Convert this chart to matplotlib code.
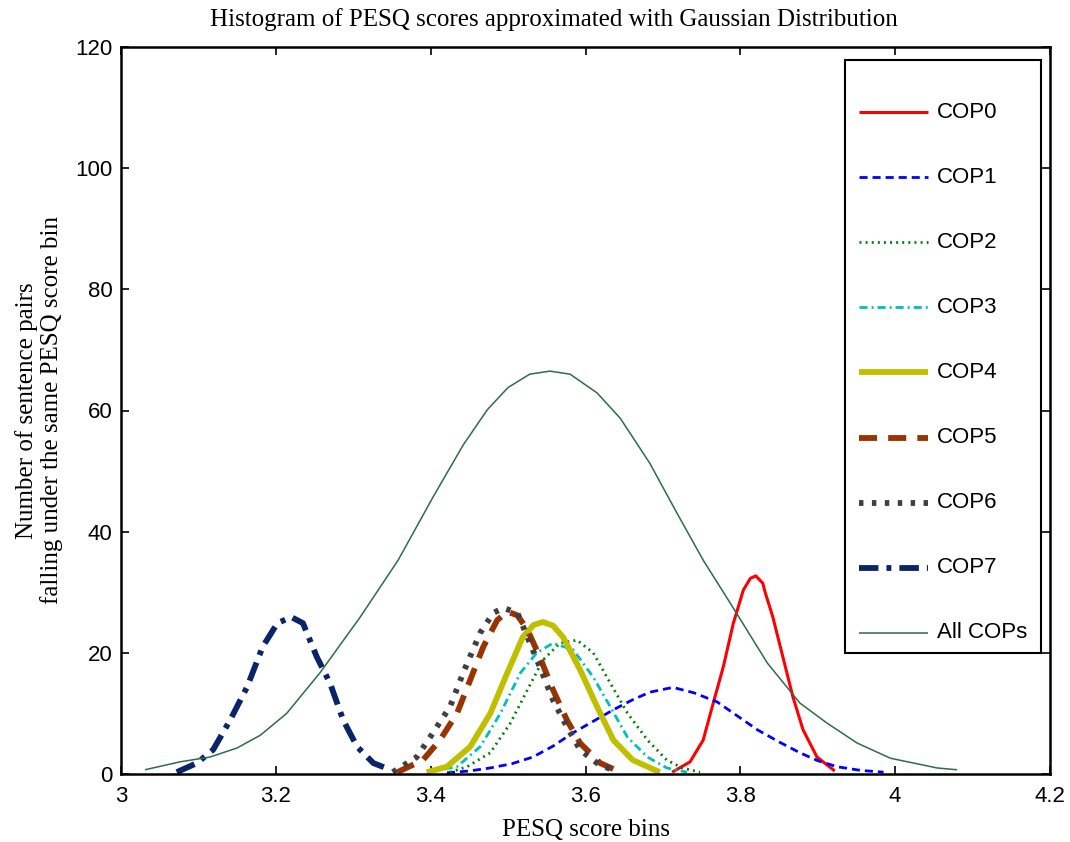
import matplotlib
matplotlib.use("Agg")
import matplotlib.pyplot as plt
from matplotlib.patches import Rectangle

# Values (PESQ bin, count)
cop0_x = [3.712, 3.735, 3.752, 3.765, 3.778, 3.791, 3.804, 3.813, 3.820, 3.829, 3.832, 3.842, 3.855, 3.868, 3.881, 3.899, 3.922]
cop0_y = [0.3, 2.0, 5.6, 11.7, 17.7, 24.9, 30.4, 32.3, 32.7, 31.5, 30.0, 25.9, 19.3, 12.7, 7.3, 2.8, 0.5]

cop1_x = [3.421, 3.450, 3.477, 3.505, 3.532, 3.558, 3.584, 3.610, 3.636, 3.660, 3.683, 3.713, 3.740, 3.770, 3.796, 3.822, 3.850, 3.877, 3.900, 3.925, 3.955, 3.985]
cop1_y = [0.2, 0.5, 1.0, 1.7, 2.8, 4.6, 6.8, 8.7, 10.6, 12.2, 13.5, 14.3, 13.4, 11.9, 9.6, 7.3, 5.3, 3.5, 2.2, 1.2, 0.6, 0.3]

cop2_x = [3.425, 3.447, 3.477, 3.503, 3.525, 3.545, 3.567, 3.589, 3.610, 3.632, 3.654, 3.680, 3.705, 3.725, 3.748]
cop2_y = [0.3, 1.2, 3.5, 8.4, 13.9, 18.8, 21.6, 22.1, 20.0, 15.0, 10.1, 5.6, 2.3, 1.0, 0.3]

cop3_x = [3.395, 3.434, 3.464, 3.490, 3.516, 3.537, 3.558, 3.584, 3.610, 3.632, 3.654, 3.680, 3.705, 3.731]
cop3_y = [0.3, 1.2, 4.5, 10.0, 16.7, 20.0, 21.6, 20.5, 16.0, 11.1, 6.1, 2.8, 1.0, 0.3]

cop4_x = [3.395, 3.421, 3.451, 3.477, 3.499, 3.519, 3.533, 3.545, 3.558, 3.571, 3.593, 3.615, 3.636, 3.661, 3.696]
cop4_y = [0.3, 1.2, 4.5, 10.0, 16.7, 22.6, 24.6, 25.1, 24.5, 22.6, 17.2, 11.1, 5.6, 2.3, 0.3]

cop5_x = [3.357, 3.390, 3.412, 3.434, 3.451, 3.468, 3.486, 3.499, 3.512, 3.525, 3.541, 3.558, 3.576, 3.593, 3.619, 3.645]
cop5_y = [0.3, 2.3, 5.6, 10.0, 15.5, 21.0, 25.4, 26.8, 26.2, 23.8, 19.3, 13.9, 8.9, 5.1, 1.8, 0.3]

cop6_x = [3.351, 3.382, 3.403, 3.425, 3.442, 3.464, 3.481, 3.494, 3.512, 3.525, 3.541, 3.558, 3.576, 3.593, 3.615, 3.641]
cop6_y = [0.3, 2.8, 6.8, 11.1, 16.7, 23.3, 26.6, 27.4, 26.6, 22.6, 17.7, 12.2, 7.8, 4.0, 1.8, 0.3]

cop7_x = [3.072, 3.098, 3.119, 3.141, 3.163, 3.183, 3.202, 3.220, 3.235, 3.253, 3.270, 3.287, 3.305, 3.326, 3.348]
cop7_y = [0.3, 1.8, 4.0, 8.9, 14.4, 21.0, 24.9, 25.9, 24.9, 19.3, 15.0, 8.9, 4.5, 1.8, 0.7]

all_x = [3.031, 3.076, 3.115, 3.150, 3.180, 3.214, 3.257, 3.309, 3.358, 3.403, 3.442, 3.473, 3.500,
         3.528, 3.554, 3.580, 3.615, 3.645, 3.683, 3.718, 3.752, 3.787, 3.835, 3.877, 3.912,
         3.951, 3.994, 4.054, 4.080]
all_y = [0.7, 2.0, 2.8, 4.3, 6.4, 10.0, 16.7, 25.9, 35.3, 45.7, 54.3, 60.1, 63.8,
         66.0, 66.5, 66.0, 62.9, 58.7, 51.3, 43.1, 35.3, 28.2, 18.3, 11.7, 8.4,
         5.1, 2.6, 1.0, 0.7]

labels = ["COP0", "COP1", "COP2", "COP3", "COP4", "COP5", "COP6", "COP7", "All COPs"]

plt.rcParams["lines.scale_dashes"] = False

# colour, width, dash pattern (None = solid)
styles = [
    ("#FF0000", 2.2, None),
    ("#0000FF", 2.0, (5.8, 3.6)),
    ("#008000", 2.0, (1.4, 3.0)),
    ("#00BFBF", 2.0, (5.8, 2.9, 1.4, 2.9)),
    ("#BFBF00", 4.2, None),
    ("#993300", 4.2, (13.0, 8.0)),
    ("#404040", 4.2, (3.2, 6.1)),
    ("#0A246A", 4.2, (14.0, 5.8, 3.5, 5.8)),
    ("#2E6B4B", 1.1, None),
]

series = [(cop0_x, cop0_y), (cop1_x, cop1_y), (cop2_x, cop2_y), (cop3_x, cop3_y),
          (cop4_x, cop4_y), (cop5_x, cop5_y), (cop6_x, cop6_y), (cop7_x, cop7_y),
          (all_x, all_y)]

fig = plt.figure(figsize=(10.7, 8.42), dpi=100)
ax = fig.add_axes([121 / 1070, 1 - 774 / 842, 929 / 1070, 727 / 842])

def style_line(line, dash):
    line.set_solid_capstyle("butt")
    line.set_dash_capstyle("butt")
    if dash is not None:
        line.set_dashes(dash)

for (xs, ys), (col, lw, dash) in zip(series, styles):
    ln, = ax.plot(xs, ys, color=col, lw=lw)
    style_line(ln, dash)

ax.set_xlim(3, 4.2)
ax.set_ylim(0, 120)
ax.set_xticks([3, 3.2, 3.4, 3.6, 3.8, 4, 4.2])
ax.set_xticklabels(["3", "3.2", "3.4", "3.6", "3.8", "4", "4.2"])
ax.set_yticks([0, 20, 40, 60, 80, 100, 120])
ax.tick_params(direction="in", length=6, width=1.2, top=True, right=True,
               labelsize=16)
ax.tick_params(axis="x", pad=9)
ax.tick_params(axis="y", pad=6)
for lab in ax.get_xticklabels() + ax.get_yticklabels():
    lab.set_family("Liberation Sans")
for sp in ax.spines.values():
    sp.set_linewidth(1.8)

serif = "Liberation Serif"
ax.set_title("Histogram of PESQ scores approximated with Gaussian Distribution",
             family=serif, fontsize=18, pad=15, x=0.466)
ax.set_xlabel("PESQ score bins", family=serif, fontsize=18, labelpad=8)
ax.set_ylabel("Number of sentence pairs\nfalling under the same PESQ score bin",
              family=serif, fontsize=18, labelpad=9, linespacing=1.1)

# legend box drawn the MATLAB way: extra space on top
def ax_x(px):
    return (px - 121) / 929

def ax_y(py):
    return (774 - py) / 727

box = Rectangle((ax_x(845), ax_y(653)), ax_x(1041) - ax_x(845), ax_y(60) - ax_y(653),
                transform=ax.transAxes, facecolor="white", edgecolor="black",
                lw=1.5, zorder=5)
ax.add_patch(box)
for i, (lab, (col, lw, dash)) in enumerate(zip(labels, styles)):
    yy = ax_y(112 + 65.1 * i)
    ln, = ax.plot([ax_x(859), ax_x(928)], [yy, yy], color=col, lw=lw,
                  transform=ax.transAxes, clip_on=False, zorder=6)
    style_line(ln, dash)
    ax.text(ax_x(937), yy, lab, transform=ax.transAxes, va="center", ha="left",
            fontsize=16, family="Liberation Sans", zorder=6)

fig.savefig("out.png", dpi=100)
